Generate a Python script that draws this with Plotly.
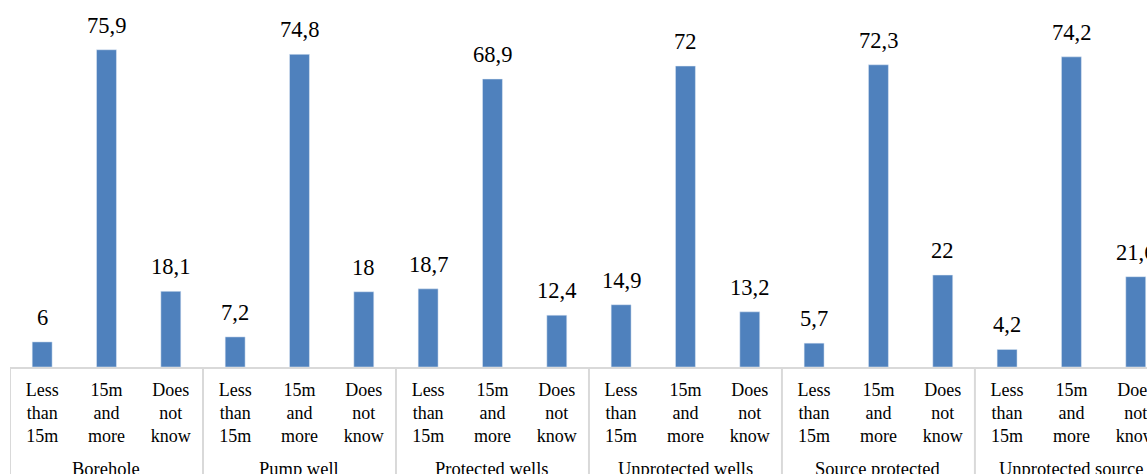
import plotly.graph_objects as go

# Distance of the water point from a latrine, by type of water source (%)
groups = ["Borehole", "Pump well", "Protected wells", "Unprotected wells",
          "Source protected", "Unprotected source"]
categories = ["Less<br>than<br>15m", "15m<br>and<br>more", "Does<br>not<br>know"]
values = [
    [6, 75.9, 18.1],
    [7.2, 74.8, 18],
    [18.7, 68.9, 12.4],
    [14.9, 72, 13.2],
    [5.7, 72.3, 22],
    [4.2, 74.2, 21.6],
]

BAR_COLOR = "#4F81BD"
GRID_COLOR = "#D9D9D9"
FONT = "Liberation Serif, Tinos, Times New Roman, serif"

n_cat = len(categories)
xs, ys, tick_text = [], [], []
for gi, row in enumerate(values):
    for ci, v in enumerate(row):
        xs.append(gi * n_cat + ci)
        ys.append(v)
        tick_text.append(categories[ci])


def fmt(v):
    return f"{v:g}".replace(".", ",")


fig = go.Figure(
    go.Bar(x=xs, y=ys, width=0.31, marker=dict(color=BAR_COLOR),
           hoverinfo="none")
)

# value labels above each bar
for x, v in zip(xs, ys):
    fig.add_annotation(x=x, y=v, text=fmt(v), showarrow=False, yanchor="bottom",
                       yshift=10, font=dict(family=FONT, size=22.5, color="black"))

# group labels below the category labels
for gi, g in enumerate(groups):
    fig.add_annotation(x=gi * n_cat + (n_cat - 1) / 2, y=-0.278, yref="paper", text=g,
                       showarrow=False, yanchor="middle",
                       font=dict(family=FONT, size=18.5, color="black"))

# vertical dividers between groups
for gi in range(len(groups) + 1):
    fig.add_shape(type="line", x0=gi * n_cat - 0.5, x1=gi * n_cat - 0.5,
                  y0=0, y1=-0.4, xref="x", yref="paper",
                  line=dict(color=GRID_COLOR, width=2))

fig.update_layout(
    width=1147, height=474,
    margin=dict(l=10, r=0, t=0, b=107, autoexpand=False),
    plot_bgcolor="white", paper_bgcolor="white",
    showlegend=False,
    font=dict(family=FONT, size=18, color="black"),
    xaxis=dict(
        range=[-0.5, 17.175], tickmode="array", tickvals=xs, ticktext=tick_text,
        showgrid=False, zeroline=False, showline=True, linecolor=GRID_COLOR,
        linewidth=2, ticks="", tickfont=dict(family=FONT, size=18, color="black"),
        ticklabelstandoff=5, tickangle=0, ticklabeloverflow="allow", automargin=False,
    ),
    yaxis=dict(range=[0, 87.8], visible=False),
)

fig.write_html("out.html")
